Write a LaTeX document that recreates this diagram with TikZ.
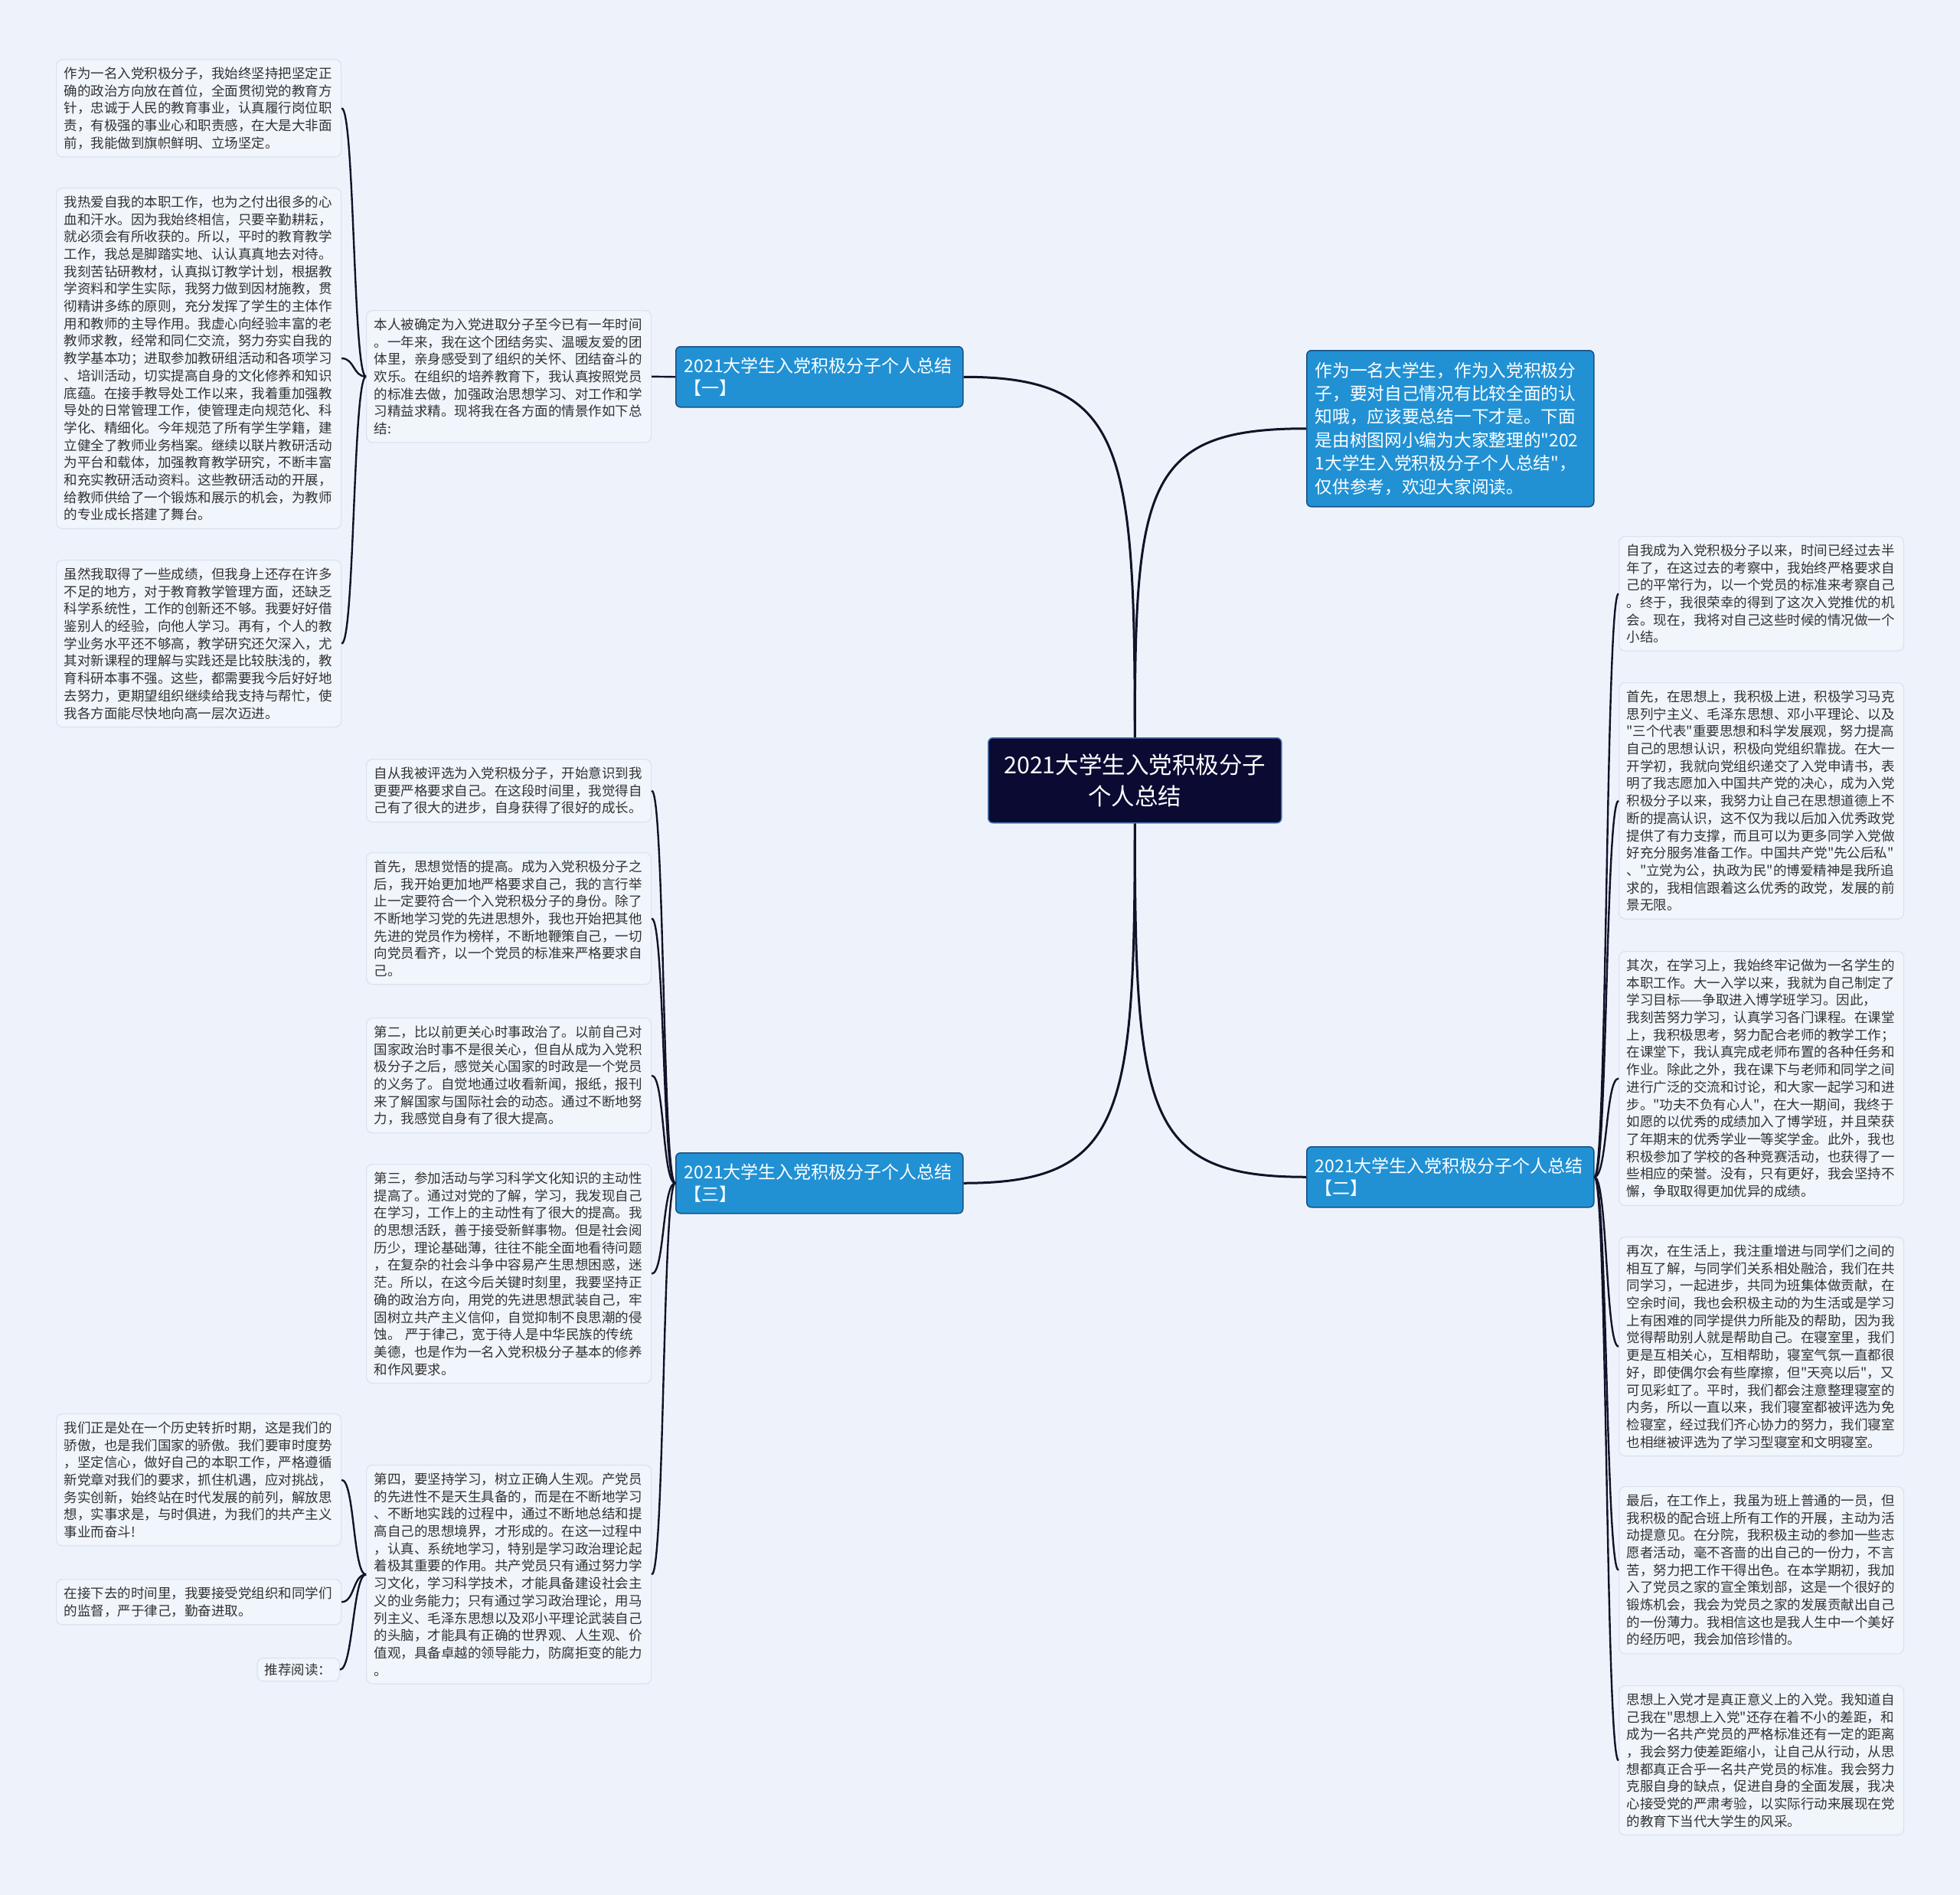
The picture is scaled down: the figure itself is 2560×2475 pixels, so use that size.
\documentclass[tikz,border=0pt]{standalone}
\usepackage{fontspec}
\setmainfont{Noto Sans CJK SC}[Ligatures=TeXOff]
\definecolor{bgcol}{RGB}{238,243,251}
\definecolor{boxfill}{RGB}{241,245,252}
\definecolor{boxline}{RGB}{218,226,241}
\definecolor{txtcol}{RGB}{50,50,50}
\definecolor{mainfill}{RGB}{33,145,212}
\definecolor{mainline}{RGB}{27,79,128}
\definecolor{centerfill}{RGB}{10,10,50}
\definecolor{centerline}{RGB}{70,115,175}
\definecolor{linkcol}{RGB}{18,18,40}
\begin{document}
\begin{tikzpicture}[x=1pt,y=-1pt,
  txt/.style={draw=boxline, fill=boxfill, rounded corners=8pt, line width=1.2pt,
    anchor=north west, text width=352pt, align=left, inner xsep=10pt, inner ysep=10pt,
    font=\fontsize{17.5}{22.7}\selectfont, text=txtcol},
  mainbox/.style={draw=mainline, fill=mainfill, rounded corners=6pt, line width=1.5pt,
    anchor=north west, minimum width=375pt, minimum height=79pt, text width=353pt,
    align=left, inner xsep=11pt, font=\fontsize{23}{29}\selectfont, text=white},
  centerbox/.style={draw=centerline, fill=centerfill, rounded corners=6pt, line width=1.5pt,
    anchor=north west, minimum width=383pt, minimum height=111pt, align=center,
    font=\fontsize{30.5}{41}\selectfont, text=white},
  biglink/.style={draw=linkcol, line width=3pt},
  link/.style={draw=linkcol, line width=2.4pt}
]
\useasboundingbox (0,0) rectangle (2560,2475);
\fill[bgcol] (0,0) rectangle (2560,2475);

% center and main branches
\node[centerbox] (center) at (1290,963) {2021大学生入党积极分子\\个人总结};
\node[mainbox] (one) at (882,452) {2021大学生入党积极分子个人总结\\【一】};
\node[mainbox] (three) at (882,1505) {2021大学生入党积极分子个人总结\\【三】};
\node[mainbox] (two) at (1706,1497) {2021大学生入党积极分子个人总结\\【二】};
\node[mainbox, minimum height=204pt, font=\fontsize{22.7}{30.4}\selectfont] (intro) at (1706,457)
  {作为一名大学生，作为入党积极分\\子，要对自己情况有比较全面的认\\知哦，应该要总结一下才是。下面\\是由树图网小编为大家整理的"202\\1大学生入党积极分子个人总结"，\\仅供参考，欢迎大家阅读。};

% branch one
\node[txt] (m0) at (478,405) {本人被确定为入党进取分子至今已有一年时间\\。一年来，我在这个团结务实、温暖友爱的团\\体里，亲身感受到了组织的关怀、团结奋斗的\\欢乐。在组织的培养教育下，我认真按照党员\\的标准去做，加强政治思想学习、对工作和学\\习精益求精。现将我在各方面的情景作如下总\\结:};
\node[txt] (l1) at (73,77) {作为一名入党积极分子，我始终坚持把坚定正\\确的政治方向放在首位，全面贯彻党的教育方\\针，忠诚于人民的教育事业，认真履行岗位职\\责，有极强的事业心和职责感，在大是大非面\\前，我能做到旗帜鲜明、立场坚定。};
\node[txt] (l2) at (73,245) {我热爱自我的本职工作，也为之付出很多的心\\血和汗水。因为我始终相信，只要辛勤耕耘，\\就必须会有所收获的。所以，平时的教育教学\\工作，我总是脚踏实地、认认真真地去对待。\\我刻苦钻研教材，认真拟订教学计划，根据教\\学资料和学生实际，我努力做到因材施教，贯\\彻精讲多练的原则，充分发挥了学生的主体作\\用和教师的主导作用。我虚心向经验丰富的老\\教师求教，经常和同仁交流，努力夯实自我的\\教学基本功；进取参加教研组活动和各项学习\\、培训活动，切实提高自身的文化修养和知识\\底蕴。在接手教导处工作以来，我着重加强教\\导处的日常管理工作，使管理走向规范化、科\\学化、精细化。今年规范了所有学生学籍，建\\立健全了教师业务档案。继续以联片教研活动\\为平台和载体，加强教育教学研究，不断丰富\\和充实教研活动资料。这些教研活动的开展，\\给教师供给了一个锻炼和展示的机会，为教师\\的专业成长搭建了舞台。};
\node[txt] (l3) at (73,731) {虽然我取得了一些成绩，但我身上还存在许多\\不足的地方，对于教育教学管理方面，还缺乏\\科学系统性，工作的创新还不够。我要好好借\\鉴别人的经验，向他人学习。再有，个人的教\\学业务水平还不够高，教学研究还欠深入，尤\\其对新课程的理解与实践还是比较肤浅的，教\\育科研本事不强。这些，都需要我今后好好地\\去努力，更期望组织继续给我支持与帮忙，使\\我各方面能尽快地向高一层次迈进。};

% branch three
\node[txt] (m1) at (478,991) {自从我被评选为入党积极分子，开始意识到我\\更要严格要求自己。在这段时间里，我觉得自\\己有了很大的进步，自身获得了很好的成长。};
\node[txt] (m2) at (478,1113) {首先，思想觉悟的提高。成为入党积极分子之\\后，我开始更加地严格要求自己，我的言行举\\止一定要符合一个入党积极分子的身份。除了\\不断地学习党的先进思想外，我也开始把其他\\先进的党员作为榜样，不断地鞭策自己，一切\\向党员看齐，以一个党员的标准来严格要求自\\己。};
\node[txt] (m3) at (478,1329) {第二，比以前更关心时事政治了。以前自己对\\国家政治时事不是很关心，但自从成为入党积\\极分子之后，感觉关心国家的时政是一个党员\\的义务了。自觉地通过收看新闻，报纸，报刊\\来了解国家与国际社会的动态。通过不断地努\\力，我感觉自身有了很大提高。};
\node[txt] (m4) at (478,1520) {第三，参加活动与学习科学文化知识的主动性\\提高了。通过对党的了解，学习，我发现自己\\在学习，工作上的主动性有了很大的提高。我\\的思想活跃，善于接受新鲜事物。但是社会阅\\历少，理论基础薄，往往不能全面地看待问题\\，在复杂的社会斗争中容易产生思想困惑，迷\\茫。所以，在这今后关键时刻里，我要坚持正\\确的政治方向，用党的先进思想武装自己，牢\\固树立共产主义信仰，自觉抑制不良思潮的侵\\蚀。 严于律己，宽于待人是中华民族的传统\\美德，也是作为一名入党积极分子基本的修养\\和作风要求。};
\node[txt] (m5) at (478,1913) {第四，要坚持学习，树立正确人生观。产党员\\的先进性不是天生具备的，而是在不断地学习\\、不断地实践的过程中，通过不断地总结和提\\高自己的思想境界，才形成的。在这一过程中\\，认真、系统地学习，特别是学习政治理论起\\着极其重要的作用。共产党员只有通过努力学\\习文化，学习科学技术，才能具备建设社会主\\义的业务能力；只有通过学习政治理论，用马\\列主义、毛泽东思想以及邓小平理论武装自己\\的头脑，才能具有正确的世界观、人生观、价\\值观，具备卓越的领导能力，防腐拒变的能力\\。};
\node[txt] (lb1) at (73,1846) {我们正是处在一个历史转折时期，这是我们的\\骄傲，也是我们国家的骄傲。我们要审时度势\\，坚定信心，做好自己的本职工作，严格遵循\\新党章对我们的要求，抓住机遇，应对挑战，\\务实创新，始终站在时代发展的前列，解放思\\想，实事求是，与时俱进，为我们的共产主义\\事业而奋斗!};
\node[txt] (lb2) at (73,2062) {在接下去的时间里，我要接受党组织和同学们\\的监督，严于律己，勤奋进取。};
\node[txt, text width=, anchor=north east, inner ysep=7pt] (lb3) at (444,2165) {推荐阅读：};

% branch two
\node[txt] (r1) at (2114,700) {自我成为入党积极分子以来，时间已经过去半\\年了，在这过去的考察中，我始终严格要求自\\己的平常行为，以一个党员的标准来考察自己\\。终于，我很荣幸的得到了这次入党推优的机\\会。现在，我将对自己这些时候的情况做一个\\小结。};
\node[txt] (r2) at (2114,891) {首先，在思想上，我积极上进，积极学习马克\\思列宁主义、毛泽东思想、邓小平理论、以及\\"三个代表"重要思想和科学发展观，努力提高\\自己的思想认识，积极向党组织靠拢。在大一\\开学初，我就向党组织递交了入党申请书，表\\明了我志愿加入中国共产党的决心，成为入党\\积极分子以来，我努力让自己在思想道德上不\\断的提高认识，这不仅为我以后加入优秀政党\\提供了有力支撑，而且可以为更多同学入党做\\好充分服务准备工作。中国共产党"先公后私"\\、"立党为公，执政为民"的博爱精神是我所追\\求的，我相信跟着这么优秀的政党，发展的前\\景无限。};
\node[txt] (r3) at (2114,1242) {其次，在学习上，我始终牢记做为一名学生的\\本职工作。大一入学以来，我就为自己制定了\\学习目标——争取进入博学班学习。因此，\\我刻苦努力学习，认真学习各门课程。在课堂\\上，我积极思考，努力配合老师的教学工作；\\在课堂下，我认真完成老师布置的各种任务和\\作业。除此之外，我在课下与老师和同学之间\\进行广泛的交流和讨论，和大家一起学习和进\\步。"功夫不负有心人"，在大一期间，我终于\\如愿的以优秀的成绩加入了博学班，并且荣获\\了年期末的优秀学业一等奖学金。此外，我也\\积极参加了学校的各种竞赛活动，也获得了一\\些相应的荣誉。没有，只有更好，我会坚持不\\懈，争取取得更加优异的成绩。};
\node[txt] (r4) at (2114,1615) {再次，在生活上，我注重增进与同学们之间的\\相互了解，与同学们关系相处融洽，我们在共\\同学习，一起进步，共同为班集体做贡献，在\\空余时间，我也会积极主动的为生活或是学习\\上有困难的同学提供力所能及的帮助，因为我\\觉得帮助别人就是帮助自己。在寝室里，我们\\更是互相关心，互相帮助，寝室气氛一直都很\\好，即使偶尔会有些摩擦，但"天亮以后"，又\\可见彩虹了。平时，我们都会注意整理寝室的\\内务，所以一直以来，我们寝室都被评选为免\\检寝室，经过我们齐心协力的努力，我们寝室\\也相继被评选为了学习型寝室和文明寝室。};
\node[txt] (r5) at (2114,1941) {最后，在工作上，我虽为班上普通的一员，但\\我积极的配合班上所有工作的开展，主动为活\\动提意见。在分院，我积极主动的参加一些志\\愿者活动，毫不吝啬的出自己的一份力，不言\\苦，努力把工作干得出色。在本学期初，我加\\入了党员之家的宣全策划部，这是一个很好的\\锻炼机会，我会为党员之家的发展贡献出自己\\的一份薄力。我相信这也是我人生中一个美好\\的经历吧，我会加倍珍惜的。};
\node[txt] (r6) at (2114,2201) {思想上入党才是真正意义上的入党。我知道自\\己我在"思想上入党"还存在着不小的差距，和\\成为一名共产党员的严格标准还有一定的距离\\，我会努力使差距缩小，让自己从行动，从思\\想都真正合乎一名共产党员的标准。我会努力\\克服自身的缺点，促进自身的全面发展，我决\\心接受党的严肃考验，以实际行动来展现在党\\的教育下当代大学生的风采。};

% main connectors
\draw[biglink] (center.north) .. controls +(0,-380) and +(210,0) .. (one.east);
\draw[biglink] (center.north) .. controls +(0,-330) and +(-210,0) .. (intro.west);
\draw[biglink] (center.south) .. controls +(0,380) and +(210,0) .. (three.east);
\draw[biglink] (center.south) .. controls +(0,380) and +(-210,0) .. (two.west);

% branch connectors
\draw[link] (one.west) .. controls +(-16,0) and +(16,0) .. (m0.east);
\foreach \c in {l1,l2,l3}
  \draw[link] (m0.west) .. controls +(-17,0) and +(17,0) .. (\c.east);
\foreach \c in {m1,m2,m3,m4,m5}
  \draw[link] (three.west) .. controls +(-17,0) and +(17,0) .. (\c.east);
\foreach \c in {lb1,lb2,lb3}
  \draw[link] (m5.west) .. controls +(-17,0) and +(17,0) .. (\c.east);
\foreach \c in {r1,r2,r3,r4,r5,r6}
  \draw[link] (two.east) .. controls +(17,0) and +(-17,0) .. (\c.west);
\end{tikzpicture}
\end{document}
